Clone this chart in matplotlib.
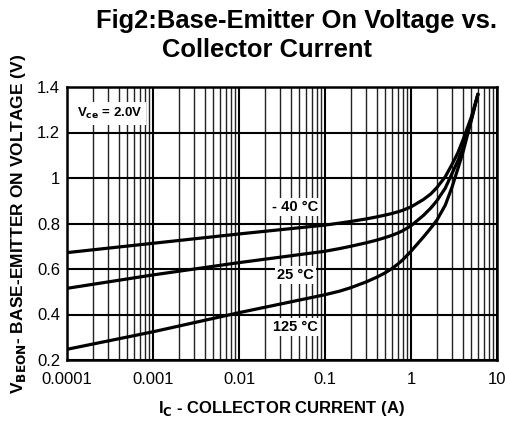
import numpy as np
import matplotlib.pyplot as plt
from matplotlib.ticker import LogLocator, FixedLocator, NullFormatter

plt.rcParams['font.family'] = ['Liberation Sans', 'DejaVu Sans']

# === DATA ===
ic = [1e-4, 1e-3, 1e-2, 0.1, 0.149, 0.2, 0.3, 0.4, 0.5, 0.6, 0.7, 0.8, 1,
      1.39, 1.7, 2, 2.5, 3, 3.5, 4, 5, 6]
vbe_m40 = [0.672, 0.713, 0.754, 0.793, 0.802, 0.809, 0.82, 0.829, 0.837, 0.844,
           0.851, 0.858, 0.873, 0.905, 0.93, 0.958, 1.005, 1.06, 1.11, 1.165,
           1.265, 1.368]
vbe_25 = [0.515, 0.574, 0.628, 0.678, 0.69, 0.70, 0.715, 0.727, 0.738, 0.748,
          0.758, 0.768, 0.79, 0.835, 0.868, 0.9, 0.955, 1.02, 1.075, 1.13,
          1.255, 1.368]
vbe_125 = [0.247, 0.324, 0.408, 0.487, 0.503, 0.518, 0.543, 0.564, 0.583, 0.602,
           0.621, 0.64, 0.678, 0.74, 0.78, 0.815, 0.88, 0.96, 1.04, 1.11,
           1.25, 1.368]

x_ticks = [1e-4, 1e-3, 1e-2, 0.1, 1, 10]
x_labels = ['0.0001', '0.001', '0.01', '0.1', '1', '10']
y_ticks = [0.2, 0.4, 0.6, 0.8, 1.0, 1.2, 1.4]
y_labels = ['0.2', '0.4', '0.6', '0.8', '1', '1.2', '1.4']

# === PLOT ===
fig = plt.figure(figsize=(5.05, 4.30), dpi=100)
ax = fig.add_axes([67 / 505, 70 / 430, 430 / 505, 273 / 430])

ax.set_xscale('log')
ax.set_xlim(1e-4, 10)
ax.set_ylim(0.2, 1.4)
ax.set_xticks(x_ticks)
ax.set_xticklabels(x_labels)
ax.xaxis.set_minor_locator(LogLocator(base=10, subs=np.arange(2, 10)))
ax.xaxis.set_minor_formatter(NullFormatter())
ax.yaxis.set_major_locator(FixedLocator(y_ticks))
ax.set_yticklabels(y_labels)
ax.tick_params(which='both', length=0, labelsize=12)
ax.tick_params(axis='x', pad=9)
ax.tick_params(axis='y', pad=5)

ax.grid(True, which='major', color='black', linewidth=1.5)
ax.grid(True, which='minor', axis='x', color='#222222', linewidth=1.0)
ax.set_axisbelow(True)
for s in ax.spines.values():
    s.set_linewidth(1.8)

for v in [vbe_m40, vbe_25, vbe_125]:
    ax.plot(ic, v, color='black', linewidth=2.3, solid_capstyle='round',
            solid_joinstyle='round', zorder=3)

box = dict(facecolor='white', edgecolor='none', pad=1.5)
ax.text(0.045, 0.873, '- 40 °C', ha='center', va='center', fontsize=10.5,
        fontweight='bold', bbox=box, zorder=4)
ax.text(0.045, 0.574, '25 °C', ha='center', va='center', fontsize=10.5,
        fontweight='bold', bbox=box, zorder=4)
ax.text(0.045, 0.345, '125 °C', ha='center', va='center', fontsize=10.5,
        fontweight='bold', bbox=box, zorder=4)
ax.text(0.0001 * 1.3, 1.283, r'V$_{\mathbf{ce}}$ = 2.0V', ha='left', va='center',
        fontsize=9.5, fontweight='bold', zorder=4,
        bbox=dict(facecolor='white', edgecolor='none', pad=3))

fig.text(497 / 505, 1 - 21 / 430, 'Fig2:Base-Emitter On Voltage vs.', ha='right', va='center',
         fontsize=18.4, fontweight='bold')
fig.text(267 / 505, 1 - 50 / 430, 'Collector Current', ha='center', va='center',
         fontsize=18.4, fontweight='bold')

fig.text(281 / 505, 1 - 408 / 430, r'I$_{\mathbf{C}}$ - COLLECTOR CURRENT (A)', ha='center',
         va='center', fontsize=12, fontweight='bold')
fig.text(19 / 505, 1 - 224 / 430, r'V$_{\mathbf{BEON}}$- BASE-EMITTER ON VOLTAGE (V)',
         ha='center', va='center', rotation=90, fontsize=12.5, fontweight='bold')

plt.savefig('out.png', dpi=100)
